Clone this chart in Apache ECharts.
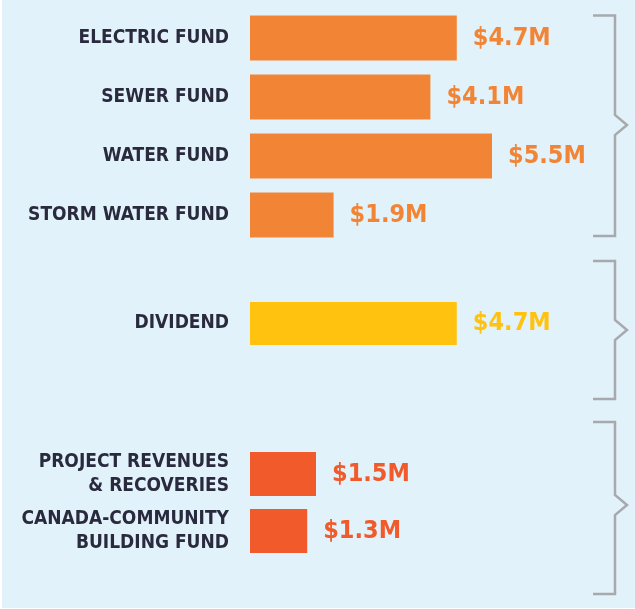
<!DOCTYPE html>
<html>
<head>
<meta charset="utf-8">
<script src="https://cdn.jsdelivr.net/npm/echarts@6/dist/echarts.min.js"></script>
<style>
  html, body { margin: 0; padding: 0; background: #ffffff; }
  #chart { position: absolute; left: 2px; top: 0; width: 633px; height: 608px; background: #e2f2fa; }
</style>
</head>
<body>
<div id="chart"></div>
<script>
// utility funds
var fundNames = ['ELECTRIC FUND', 'SEWER FUND', 'WATER FUND', 'STORM WATER FUND'];
var fundValues = [4.7, 4.1, 5.5, 1.9];
// dividend
var dividendNames = ['DIVIDEND'];
var dividendValues = [4.7];
// other revenues
var otherNames = ['PROJECT REVENUES\n& RECOVERIES', 'CANADA-COMMUNITY\nBUILDING FUND'];
var otherValues = [1.5, 1.3];

var FONT = '"Liberation Sans Narrow", "DejaVu Sans Condensed", "Liberation Sans", sans-serif';
var ORANGE = '#f28535', YELLOW = '#ffc20f', RED = '#f15a2a', GRAY = '#a7a9ac';

var chart = echarts.init(document.getElementById('chart'));

function money(p) { return '$' + p.value.toFixed(1) + 'M'; }

function xAx(i) {
    return { gridIndex: i, type: 'value', min: 0, max: 8, show: false };
}
function yAx(i, names) {
    return {
        gridIndex: i, type: 'category', data: names, inverse: true,
        axisLine: { show: false }, axisTick: { show: false }, splitLine: { show: false },
        axisLabel: {
            margin: 21, color: '#2a2a3e', fontFamily: FONT, fontWeight: 'bold',
            fontSize: 19, lineHeight: 24, align: 'right'
        }
    };
}
function bars(i, vals, color, w) {
    return {
        type: 'bar', xAxisIndex: i, yAxisIndex: i, data: vals, barWidth: w,
        itemStyle: { color: color },
        label: {
            show: true, position: 'right', distance: 16, formatter: money,
            color: color, fontFamily: FONT, fontWeight: 'bold', fontSize: 25
        },
        silent: true
    };
}

// bracket: x offsets relative to chart div (left:2px)
function bracket(top, bottom, mid) {
    var x = 613, x0 = 591, tip = 625;
    return {
        type: 'polyline',
        shape: { points: [[x0, top], [x, top], [x, mid - 10], [tip, mid], [x, mid + 10], [x, bottom], [x0, bottom]] },
        style: { stroke: GRAY, lineWidth: 2.5, fill: null }
    };
}

function grid(top, height) {
    return { left: 248, width: 352, top: top, height: height, outerBoundsMode: 'none', containLabel: false };
}

chart.setOption({
    animation: false,
    grid: [grid(8.5, 236), grid(293.5, 60), grid(445.5, 114)],
    xAxis: [xAx(0), xAx(1), xAx(2)],
    yAxis: [yAx(0, fundNames), yAx(1, dividendNames), yAx(2, otherNames)],
    series: [
        bars(0, fundValues, ORANGE, 45),
        bars(1, dividendValues, YELLOW, 43),
        bars(2, otherValues, RED, 44)
    ],
    graphic: [
        bracket(15.5, 236, 125),
        bracket(261, 399, 330),
        bracket(422, 594, 505)
    ]
});
</script>
</body>
</html>
